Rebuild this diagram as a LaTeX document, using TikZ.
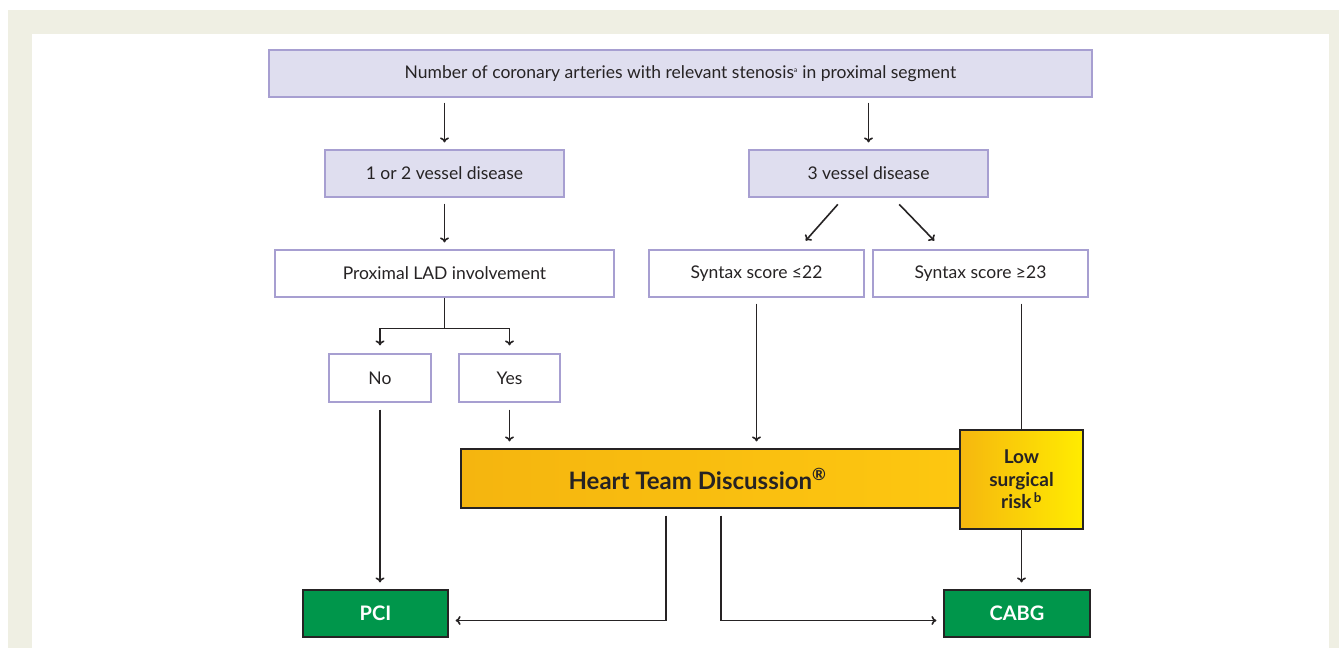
\documentclass[tikz,border=0pt]{standalone}
\usepackage{fontspec}
\setmainfont{Lato}
\usetikzlibrary{arrows.meta,calc}
\definecolor{beige}{HTML}{EFEFE3}
\definecolor{lilac}{HTML}{DFDEEF}
\definecolor{lilacline}{HTML}{A79FD1}
\definecolor{dark}{HTML}{262324}
\definecolor{gr}{HTML}{00964B}
\definecolor{orA}{HTML}{F5B50F}
\definecolor{orB}{HTML}{FDC710}
\definecolor{yel}{HTML}{FFEC00}
\tikzset{
  x=1pt,y=-1pt,
  box/.style={draw=lilacline,line width=1.2pt,minimum height=47pt,inner sep=0pt,font=\fontsize{17.5}{20}\selectfont,text=dark},
  lbox/.style={box,fill=lilac},
  wbox/.style={box,fill=white},
  gbox/.style={draw=dark,line width=1.2pt,fill=gr,minimum height=47pt,inner sep=0pt,text=white,font=\fontsize{20}{22}\selectfont\bfseries},
  arr/.style={draw=dark,line width=1.6pt,-{To[length=5pt,width=9pt]}},
  ln/.style={draw=dark,line width=1.6pt},
}
\begin{document}
\begin{tikzpicture}
\useasboundingbox (0,0) rectangle (1339,648);
\fill[white] (0,0) rectangle (1339,648);
\fill[beige] (8,10) rectangle (1339,648);
\fill[white] (32,34) rectangle (1329,648);

\node[lbox,minimum width=823pt] (top) at (680.5,73.5) {Number of coronary arteries with relevant stenosis\textsuperscript{\scriptsize a} in proximal segment};
\node[lbox,minimum width=239pt] (v12) at (444.5,173.5) {1 or 2 vessel disease};
\node[lbox,minimum width=239pt] (v3) at (868.5,173.5) {3 vessel disease};
\node[wbox,minimum width=339pt] (lad) at (444.5,273.5) {Proximal LAD involvement};
\node[wbox,minimum width=215pt] (s22) at (756.5,273.5) {Syntax score ≤22};
\node[wbox,minimum width=215pt] (s23) at (980.5,273.5) {Syntax score ≥23};
\node[wbox,minimum width=102pt,minimum height=48pt] (no) at (380,378) {No};
\node[wbox,minimum width=101pt,minimum height=48pt] (yes) at (509.5,378) {Yes};

\node[draw=dark,line width=1.2pt,shading=axis,left color=orA,right color=orB,shading angle=90,
      minimum width=499pt,minimum height=59pt,inner sep=0pt,text=dark,
      font=\fontsize{24}{27}\selectfont\bfseries] (heart) at (710.5,478.5)
      {\hspace*{-26pt}Heart Team Discussion\textsuperscript{®}};
\node[draw=dark,line width=1.2pt,left color=orA!90!orB,right color=yel,
      minimum width=123pt,minimum height=99pt,inner sep=0pt,text=dark,align=center,
      font=\fontsize{19}{22.5}\selectfont\bfseries] (low) at (1021.5,479.5)
      {Low\\surgical\\risk\textsuperscript{\,b}};

\node[gbox,minimum width=145pt] (pci) at (375.5,613.5) {PCI};
\node[gbox,minimum width=146pt] (cabg) at (1017,613.5) {CABG};

% arrows
\draw[arr,shorten <=5pt,shorten >=7pt] (top.south -| v12.north) -- (v12.north);
\draw[arr,shorten <=5pt,shorten >=7pt] (top.south -| v3.north) -- (v3.north);
\draw[arr,shorten <=6pt,shorten >=7pt] (v12.south) -- (lad.north);
\draw[arr,shorten <=1pt,shorten >=1pt] ([xshift=-30pt,yshift=-6pt]v3.south) -- ([xshift=48.5pt,yshift=8pt]s22.north);
\draw[arr,shorten <=1pt,shorten >=1pt] ([xshift=30pt,yshift=-6pt]v3.south) -- ([xshift=-45.5pt,yshift=8pt]s23.north);

\coordinate (split) at ($(lad.south)+(0,31)$);
\draw[ln] (lad.south) -- (split);
\draw[arr,shorten >=8pt] (split) -| (no.north);
\draw[arr,shorten >=8pt] (split) -| (yes.north);

\draw[arr,shorten <=7pt,shorten >=7pt] (no.south) -- (no.south |- pci.north);
\draw[arr,shorten <=7pt,shorten >=7pt] (yes.south) -- (yes.south |- heart.north);
\draw[arr,shorten <=6pt,shorten >=7pt] (s22.south) -- (s22.south |- heart.north);
\draw[ln,shorten <=6pt] (s23.south -| low.north) -- (low.north);
\draw[arr,shorten >=7pt] (low.south) -- (low.south |- cabg.north);

\draw[arr,shorten >=7pt] ([xshift=-44.5pt,yshift=-7pt]heart.south) |- ([yshift=-7pt]pci.east);
\draw[arr,shorten >=7pt] ([xshift=10.5pt,yshift=-7pt]heart.south) |- ([yshift=-7pt]cabg.west);
\end{tikzpicture}
\end{document}
